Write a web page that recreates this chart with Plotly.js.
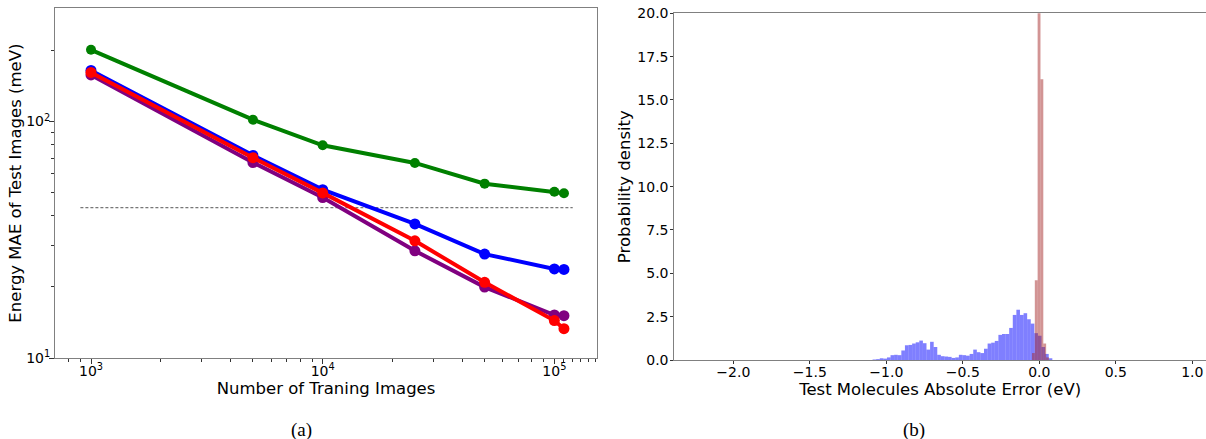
<!DOCTYPE html>
<html>
<head>
<meta charset="utf-8">
<script src="https://cdn.plot.ly/plotly-3.0.1.min.js"></script>
<style>
  html, body { margin: 0; padding: 0; background: #ffffff; }
  #chart { width: 1206px; height: 439px; }
</style>
</head>
<body>
<div id="chart"></div>
<script>
// ---------------- Panel (a): learning curves ----------------
const trainSizes = [1000, 5000, 10000, 25000, 50000, 100000, 110000];
const maeGreen   = [201, 101.8, 79.3, 66.8, 54.6, 50.5, 49.7];
const maeBlue    = [164.4, 71.9, 51.5, 36.9, 27.5, 23.8, 23.7];
const maeRed     = [161.3, 70.3, 49.9, 31.3, 20.9, 14.4, 13.3];
const maePurple  = [157.3, 67.1, 47.7, 28.4, 19.95, 15.2, 15.1];
const refLineX   = [900, 120000];
const refLineY   = [43.2, 43.2];

const xMajorVals = [1000, 10000, 100000];
const xMajorText = ['10<sup>3</sup>', '10<sup>4</sup>', '10<sup>5</sup>'];
const xMinorVals = [800, 900, 2000, 3000, 4000, 5000, 6000, 7000, 8000, 9000,
                    20000, 30000, 40000, 50000, 60000, 70000, 80000, 90000,
                    110000, 120000, 130000, 140000, 150000];
const yMajorVals = [10, 100];
const yMajorText = ['10<sup>1</sup>', '10<sup>2</sup>'];
const yMinorVals = [20, 30, 40, 50, 60, 70, 80, 90, 200];

// ---------------- Panel (b): error histograms ----------------
const blueFirstCenter = -1.07825;
const blueBinWidth = 0.0235;
const blueDensity = [0.03, 0.05, 0.1, 0.08, 0.15,
                     0.28, 0.3, 0.28, 0.55, 0.85, 0.87,
                     0.95, 1.02, 1.12, 0.97, 0.6, 1.05, 0.75,
                     0.3, 0.22, 0.2, 0.18, 0.12, 0.15, 0.3, 0.28, 0.25, 0.35,
                     0.6, 0.45, 0.4, 0.65, 0.95, 1.0, 1.1,
                     1.45, 1.5, 1.5, 1.85, 2.6, 2.9, 2.6, 2.7,
                     2.35, 2.1, 1.55, 1.4, 0.75, 0.35, 0.1];
const redFirstCenter = -0.03875;
const redBinWidth = 0.0185;
const redDensity = [0.4, 4.6, 31, 16.2, 0.95, 0.15];

const FONT = 'DejaVu Sans, Verdana, sans-serif';
const AXCOL = '#808080';

function lineTrace(y, color, size) {
  return {
    type: 'scatter', mode: 'lines+markers', x: trainSizes, y: y,
    line: {color: color, width: 4}, marker: {color: color, size: size},
    xaxis: 'x', yaxis: 'y', hoverinfo: 'x+y'
  };
}

const data = [
  {type: 'scatter', mode: 'lines', x: refLineX, y: refLineY,
   line: {color: '#555555', width: 1, dash: '3px,2px'}, xaxis: 'x', yaxis: 'y'},
  lineTrace(maePurple, '#800080', 11),
  lineTrace(maeBlue, '#0000ff', 11),
  lineTrace(maeRed, '#ff0000', 11),
  lineTrace(maeGreen, '#008000', 10),
  {type: 'bar', x0: blueFirstCenter, dx: blueBinWidth, y: blueDensity, width: blueBinWidth,
   marker: {color: 'rgba(0,0,255,0.5)', line: {width: 0}}, xaxis: 'x2', yaxis: 'y2'},
  {type: 'bar', x0: redFirstCenter, dx: redBinWidth, y: redDensity, width: redBinWidth,
   marker: {color: 'rgba(165,42,42,0.5)', line: {width: 0}}, xaxis: 'x2', yaxis: 'y2'}
];

const W = 1206, H = 439;
const layout = {
  width: W, height: H,
  margin: {l: 0, r: 0, t: 0, b: 0},
  paper_bgcolor: '#ffffff', plot_bgcolor: '#ffffff',
  showlegend: false,
  barmode: 'overlay',
  font: {family: FONT, size: 14, color: '#000000'},
  xaxis: {
    type: 'log', domain: [55 / W, 597 / W], anchor: 'y',
    range: [2.8446, 5.184],
    showline: true, mirror: true, linecolor: AXCOL, linewidth: 1,
    showgrid: false, zeroline: false,
    ticks: 'outside', ticklen: 5, tickcolor: '#333', tickwidth: 1,
    ticklabelstandoff: -5,
    tickmode: 'array', tickvals: xMajorVals, ticktext: xMajorText,
    minor: {tickmode: 'array', tickvals: xMinorVals, ticks: 'outside', ticklen: 3, tickcolor: '#333', showgrid: false},
    tickfont: {size: 14},
    title: {text: 'Number of Traning Images', font: {size: 16.5}, standoff: 0}
  },
  yaxis: {
    type: 'log', domain: [1 - 358 / H, 1 - 8.3 / H], anchor: 'x',
    range: [1, 2.4787],
    showline: true, mirror: true, linecolor: AXCOL, linewidth: 1,
    showgrid: false, zeroline: false,
    ticks: 'outside', ticklen: 5, tickcolor: '#333', tickwidth: 1,
    ticklabelstandoff: -4,
    tickmode: 'array', tickvals: yMajorVals, ticktext: yMajorText,
    minor: {tickmode: 'array', tickvals: yMinorVals, ticks: 'outside', ticklen: 3, tickcolor: '#333', showgrid: false},
    tickfont: {size: 14},
    title: {text: 'Energy MAE of Test Images (meV)', font: {size: 16.5}, standoff: 0}
  },
  xaxis2: {
    domain: [674.3 / W, 1], anchor: 'y2',
    range: [-2.386, 1.0895],
    showline: true, mirror: true, linecolor: AXCOL, linewidth: 1,
    showgrid: false, zeroline: false,
    ticks: 'outside', ticklen: 3, tickcolor: '#333',
    ticklabelstandoff: -4,
    tick0: 0, dtick: 0.5, tickformat: '.1f',
    tickfont: {size: 14},
    title: {text: 'Test Molecules Absolute Error (eV)', font: {size: 16.5}, standoff: 0}
  },
  yaxis2: {
    domain: [1 - 360 / H, 1 - 13.3 / H], anchor: 'x2',
    range: [0, 20],
    showline: true, mirror: false, linecolor: AXCOL, linewidth: 1,
    showgrid: false, zeroline: false,
    ticks: 'outside', ticklen: 3, tickcolor: '#333',
    ticklabelstandoff: -1,
    tick0: 0, dtick: 2.5, tickformat: '.1f',
    tickfont: {size: 14},
    title: {text: 'Probability density', font: {size: 16.5}, standoff: 2}
  },
  annotations: [
    {text: '(a)', xref: 'paper', yref: 'paper', x: 301 / W, y: 1 - 430 / H,
     xanchor: 'center', yanchor: 'middle',
     showarrow: false, font: {family: 'Liberation Serif, Times New Roman, serif', size: 19}},
    {text: '(b)', xref: 'paper', yref: 'paper', x: 914 / W, y: 1 - 430 / H,
     xanchor: 'center', yanchor: 'middle',
     showarrow: false, font: {family: 'Liberation Serif, Times New Roman, serif', size: 19}}
  ]
};

Plotly.newPlot('chart', data, layout, {staticPlot: true, displayModeBar: false});
</script>
</body>
</html>
